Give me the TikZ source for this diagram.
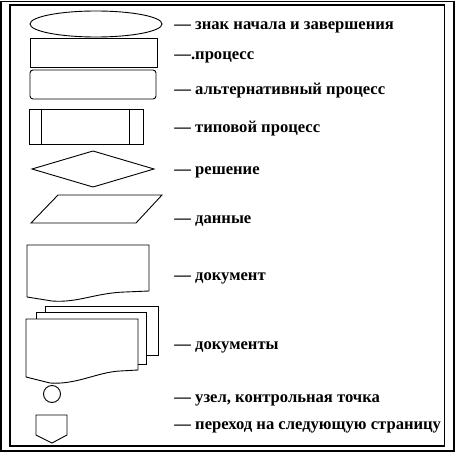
\documentclass[tikz,border=0pt]{standalone}
\usepackage{fontspec}
\setmainfont{Liberation Serif}
\usetikzlibrary{shapes.geometric}

\begin{document}
\begin{tikzpicture}[
x=1pt,y=-1pt,
line width=0.9pt,
myshape/.style={
  draw,
  inner sep=0pt
  },
mylabel/.style={
  anchor=base west,
  inner sep=0pt,
  font=\bfseries\fontsize{16.6}{18}\selectfont
  }
]
\useasboundingbox (0,0) rectangle (455,452);
% frames
\draw[line width=1.4pt] (1,1.5) rectangle (454,451);
\draw[line width=1.2pt] (10,5) rectangle (444.5,446);
% symbols
\node[myshape,ellipse,minimum width=132pt,minimum height=26pt] (term) at (96,24) {};
\node[myshape,rectangle,minimum width=127pt,minimum height=29pt] (proc) at (93.5,52.5) {};
\node[myshape,rectangle,rounded corners=3pt,minimum width=126pt,minimum height=29pt] (alt) at (93,84.5) {};
\node[myshape,rectangle,minimum width=114pt,minimum height=35pt] (pred) at (86,126.5) {};
\draw (pred.north west) ++(13,0) -- ++(0,35);
\draw (pred.north east) ++(-14,0) -- ++(0,35);
\draw (32,169) -- (93,151) -- (154,169) -- (93,187) -- cycle;
\draw (58,195) -- (162,195) -- (136,223) -- (31,223) -- cycle;
\draw (27,245) -- (149,245) -- (149,291) -- (125,292)
  .. controls (95,293) and (78,303) .. (52,301) -- (27,297) -- cycle;
\draw (45,312) -- (45,306) -- (158,306) -- (158,355) -- (146,355);
\draw (36,319) -- (36,312) -- (146,312) -- (146,364) -- (138,364);
\draw (26,319) -- (138,319) -- (138,370) -- (120,371)
  .. controls (98,372) and (76,385) .. (50,383) -- (26,377) -- cycle;
\node[myshape,circle,minimum size=17pt] (node) at (52,394) {};
\draw (36,415) -- (67,415) -- (67,435) -- (52,443) -- (36,435) -- cycle;
% labels
\foreach \Pos/\Txt [count=\i] in {
  25/{--- знак начала и завершения},
  55/{---.процесс},
  90/{--- альтернативный процесс},
  128/{--- типовой процесс},
  170/{--- решение},
  219/{--- данные},
  276/{--- документ},
  345/{--- документы},
  398/{--- узел, контрольная точка},
  425/{--- переход на следующую страницу}}
  \node[mylabel] (t\i) at (174,\Pos+4.5) {\Txt};
\end{tikzpicture}
\end{document}
